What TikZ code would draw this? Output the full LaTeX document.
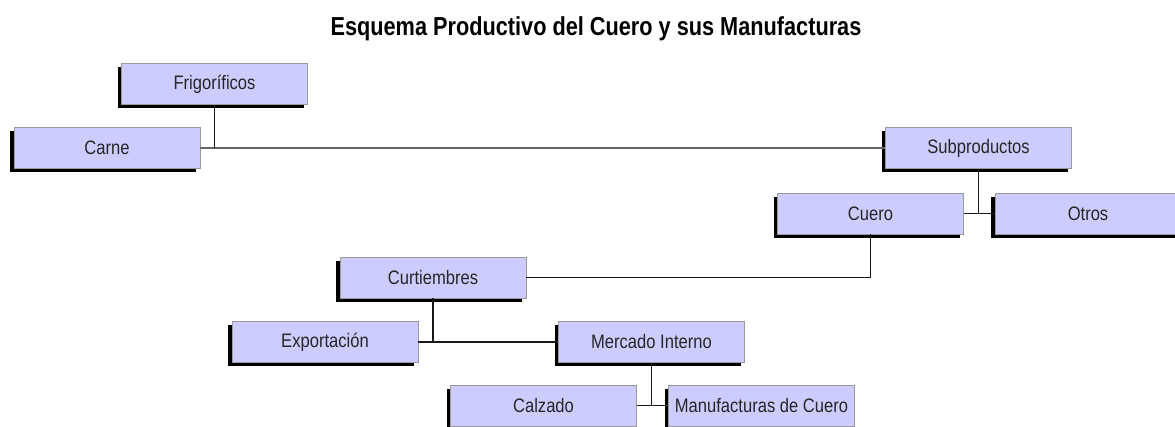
\documentclass[tikz,border=0pt]{standalone}
\usepackage{fontspec}
\setmainfont{Liberation Sans}
\newfontfamily\boxfont[FakeStretch=0.85]{Liberation Sans}
\newfontfamily\titlefont[FakeStretch=0.835]{Liberation Sans}
\usetikzlibrary{shadows}
\definecolor{boxfill}{HTML}{CCCCFF}
\definecolor{boxline}{HTML}{9A9A9A}
\begin{document}
\begin{tikzpicture}[x=1pt,y=-1pt,
  unit/.style={draw=boxline, line width=0.8pt, fill=boxfill,
    minimum width=186pt, minimum height=41pt, inner sep=0pt,
    font=\boxfont\fontsize{19.5}{21}\selectfont, text=black!85,
    drop shadow={shadow xshift=-4pt, shadow yshift=-4pt, fill=black, opacity=1}},
  link/.style={draw=black!90, line width=1.6pt},
  softlink/.style={draw=black!60, line width=1.8pt}]
\useasboundingbox[fill=white] (0,0) rectangle (1175,427);
\node[font=\titlefont\bfseries\fontsize{26}{28}\selectfont] (title) at (596,29) {Esquema Productivo del Cuero y sus Manufacturas};
\node[unit] (frig) at (214.5,84) {Frigoríficos};
\node[unit] (carne) at (107,148) {Carne};
\node[unit] (subp) at (978.5,148) {Subproductos};
\node[unit] (cuero) at (870.5,213.5) {Cuero};
\node[unit] (otros) at (1088,213.5) {Otros};
\node[unit] (curt) at (433,277.5) {Curtiembres};
\node[unit] (expo) at (325,342) {Exportación};
\node[unit] (merc) at (651.5,342) {Mercado Interno};
\node[unit] (calz) at (543.5,405.5) {Calzado};
\node[unit] (manu) at (761.5,405.5) {Manufacturas de Cuero};
% connectors
\draw[softlink] (carne.east) -- (subp.west);
\draw[link] (frig.south) -- (frig.south |- carne.east);
\draw[link] (cuero.east) -- (otros.west);
\draw[link] (subp.south) -- (subp.south |- cuero.east);
\draw[link] (cuero.south) |- (curt.east);
\draw[link] (expo.east) -- (merc.west);
\draw[link] (curt.south) -- (curt.south |- expo.east);
\draw[link] (calz.east) -- (manu.west);
\draw[link] (merc.south) -- (merc.south |- calz.east);
\end{tikzpicture}
\end{document}
